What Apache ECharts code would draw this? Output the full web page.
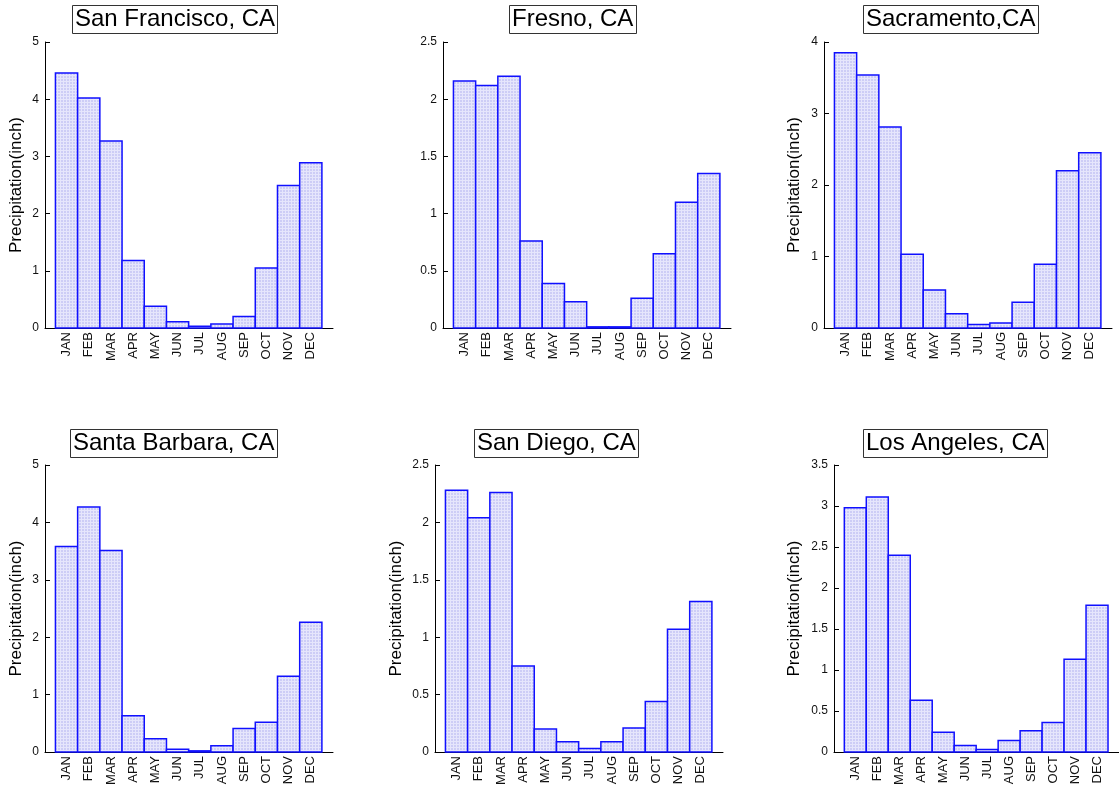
<!DOCTYPE html>
<html>
<head>
<meta charset="utf-8">
<title>California monthly precipitation</title>
<style>
html, body { margin: 0; padding: 0; background: #fff; }
#chart { width: 1119px; height: 792px; }
</style>
</head>
<body>
<div id="chart"></div>
<script src="https://cdn.jsdelivr.net/npm/echarts@6/dist/echarts.min.js"></script>
<script>
var months = ['JAN', 'FEB', 'MAR', 'APR', 'MAY', 'JUN', 'JUL', 'AUG', 'SEP', 'OCT', 'NOV', 'DEC'];

var sanFrancisco = [4.46, 4.02, 3.27, 1.18, 0.38, 0.11, 0.03, 0.07, 0.20, 1.05, 2.49, 2.89];
var fresno       = [2.16, 2.12, 2.20, 0.76, 0.39, 0.23, 0.01, 0.01, 0.26, 0.65, 1.10, 1.35];
var sacramento   = [3.85, 3.54, 2.81, 1.03, 0.53, 0.20, 0.05, 0.07, 0.36, 0.89, 2.20, 2.45];
var santaBarbara = [3.58, 4.27, 3.51, 0.63, 0.23, 0.05, 0.02, 0.11, 0.41, 0.52, 1.32, 2.26];
var sanDiego     = [2.28, 2.04, 2.26, 0.75, 0.20, 0.09, 0.03, 0.09, 0.21, 0.44, 1.07, 1.31];
var losAngeles   = [2.98, 3.11, 2.40, 0.63, 0.24, 0.08, 0.03, 0.14, 0.26, 0.36, 1.13, 1.79];

var cityNames = ['San Francisco, CA', 'Fresno, CA', 'Sacramento,CA',
                 'Santa Barbara, CA', 'San Diego, CA', 'Los Angeles, CA'];
var cityRain = [sanFrancisco, fresno, sacramento, santaBarbara, sanDiego, losAngeles];
var yMax  = [5, 2.5, 4, 5, 2.5, 3.5];
var yStep = [1, 0.5, 1, 1, 0.5, 0.5];
var yName = 'Precipitation(inch)';

// where each little plot sits on the page
var panels = [
    {left: 45,  top: 42,  height: 286, titleX: 72,  titleY: 5,   nameGap: 20},
    {left: 443, top: 42,  height: 286, titleX: 509, titleY: 5,   nameGap: null},
    {left: 824, top: 42,  height: 286, titleX: 863, titleY: 5,   nameGap: 21},
    {left: 45,  top: 465, height: 287, titleX: 70,  titleY: 429, nameGap: 20},
    {left: 435, top: 465, height: 287, titleX: 474, titleY: 429, nameGap: 30},
    {left: 834, top: 465, height: 287, titleX: 863, titleY: 429, nameGap: 31}
];

var FONT = '"Liberation Sans", Arial, Helvetica, sans-serif';

// dotted lavender fill like the original bars
var tile = document.createElement('canvas');
tile.width = 3; tile.height = 3;
var tctx = tile.getContext('2d');
tctx.fillStyle = '#cdcdf6';
tctx.fillRect(0, 0, 3, 3);
tctx.fillStyle = '#e6e6fc';
tctx.fillRect(0, 0, 3, 1);
tctx.fillRect(0, 0, 1, 3);
var barFill = {image: tile, repeat: 'repeat'};

function renderBar(params, api) {
    var i = api.value(0);
    var v = api.value(1);
    var topLeft = api.coord([i - 0.5, v]);
    var bottomRight = api.coord([i + 0.5, 0]);
    return {
        type: 'rect',
        shape: {
            x: topLeft[0],
            y: topLeft[1],
            width: bottomRight[0] - topLeft[0],
            height: bottomRight[1] - topLeft[1]
        },
        style: {fill: barFill, stroke: '#1010ff', lineWidth: 1.5}
    };
}

var chart = echarts.init(document.getElementById('chart'));

var option = {
    animation: false,
    backgroundColor: '#fff',
    title: [], grid: [], xAxis: [], yAxis: [], series: []
};

panels.forEach(function (p, k) {
    option.title.push({
        text: cityNames[k],
        left: p.titleX,
        top: p.titleY,
        padding: [2, 3],
        borderWidth: 1,
        borderColor: '#333',
        backgroundColor: '#fff',
        textStyle: {fontFamily: FONT, fontSize: 24, fontWeight: 'normal', color: '#000', lineHeight: 25}
    });
    option.grid.push({left: p.left, top: p.top, width: 288, height: p.height});
    option.xAxis.push({
        type: 'value',
        gridIndex: k,
        min: -0.97,
        max: 12,
        axisLine: {show: true, onZero: false, lineStyle: {color: '#000', width: 1}},
        axisTick: {show: false},
        splitLine: {show: false},
        axisLabel: {
            customValues: months.map(function (m, i) { return i; }),
            formatter: function (v) { return months[v]; },
            rotate: 90,
            margin: 4,
            fontFamily: FONT,
            fontSize: 13,
            color: '#111'
        }
    });
    option.yAxis.push({
        type: 'value',
        gridIndex: k,
        min: 0,
        max: yMax[k],
        interval: yStep[k],
        name: p.nameGap === null ? '' : yName,
        nameLocation: 'middle',
        nameGap: p.nameGap || 0,
        nameTextStyle: {fontFamily: FONT, fontSize: 17, color: '#000'},
        axisLine: {show: true, onZero: false, lineStyle: {color: '#000', width: 1}},
        axisTick: {show: true, inside: true, length: 5, lineStyle: {color: '#000'}},
        splitLine: {show: false},
        axisLabel: {fontFamily: FONT, fontSize: 12, color: '#111', margin: 6}
    });
    option.series.push({
        type: 'custom',
        xAxisIndex: k,
        yAxisIndex: k,
        renderItem: renderBar,
        encode: {x: 0, y: 1},
        data: cityRain[k].map(function (v, i) { return [i, v]; })
    });
});

chart.setOption(option);
</script>
</body>
</html>
